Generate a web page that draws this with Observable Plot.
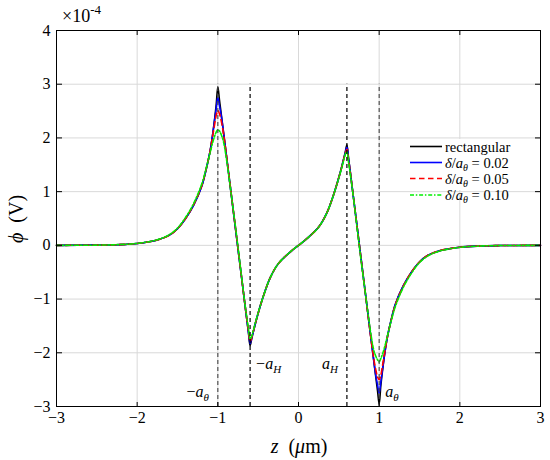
<!DOCTYPE html>
<html><head><meta charset="utf-8">
<script src="https://cdn.jsdelivr.net/npm/d3@7"></script>
<script src="https://cdn.jsdelivr.net/npm/@observablehq/plot@0.6"></script>
<style>body{margin:0;background:#fff}#chart{width:550px;height:460px}#chart svg, #chart svg text{font-family:"Liberation Serif","DejaVu Serif",serif !important}</style>
</head><body><div id="chart"></div>
<script>
// z in micrometres, phi in units of 1e-4 V
const z = [-3, -2.5, -2.25, -2, -1.75, -1.6, -1.5, -1.4, -1.3, -1.2, -1.15, -1.1, -1.07, -1.04, -1.02, -1, -0.98, -0.96, -0.93, -0.8, -0.67, -0.64, -0.62, -0.6, -0.58, -0.56, -0.52, -0.43, -0.35, -0.25, -0.1,
  0,
  0.1, 0.25, 0.35, 0.43, 0.52, 0.56, 0.58, 0.6, 0.62, 0.64, 0.67, 0.8, 0.93, 0.96, 0.98, 1, 1.02, 1.04, 1.07, 1.1, 1.15, 1.2, 1.3, 1.4, 1.5, 1.6, 1.75, 2, 2.25, 2.5, 3];
const phiRect = [0, 0.004, 0.012, 0.035, 0.1, 0.19, 0.31, 0.5, 0.75, 1.1, 1.38, 1.72, 2.0, 2.35, 2.62, 2.95, 2.71, 2.47, 2.11, 0.54, -1.03, -1.39, -1.63, -1.87, -1.74, -1.61, -1.37, -0.92, -0.6, -0.34, -0.12,
  0,
  0.12, 0.34, 0.6, 0.92, 1.37, 1.61, 1.74, 1.87, 1.63, 1.39, 1.03, -0.54, -2.11, -2.47, -2.71, -2.96, -2.62, -2.35, -2.0, -1.72, -1.38, -1.1, -0.75, -0.5, -0.31, -0.19, -0.1, -0.035, -0.012, -0.004, 0];
const phi002 = [0, 0.004, 0.012, 0.035, 0.1, 0.19, 0.31, 0.5, 0.75, 1.1, 1.38, 1.72, 2.0, 2.33, 2.55, 2.75, 2.6, 2.44, 2.11, 0.54, -1.03, -1.39, -1.62, -1.83, -1.72, -1.61, -1.37, -0.92, -0.6, -0.34, -0.12,
  0,
  0.12, 0.34, 0.6, 0.92, 1.37, 1.61, 1.72, 1.83, 1.62, 1.39, 1.03, -0.54, -2.11, -2.44, -2.6, -2.75, -2.55, -2.33, -2.0, -1.72, -1.38, -1.1, -0.75, -0.5, -0.31, -0.19, -0.1, -0.035, -0.012, -0.004, 0];
const phi005 = [0, 0.004, 0.012, 0.035, 0.1, 0.19, 0.31, 0.5, 0.76, 1.11, 1.39, 1.72, 1.98, 2.25, 2.42, 2.51, 2.45, 2.33, 2.08, 0.55, -1.03, -1.38, -1.59, -1.79, -1.71, -1.6, -1.37, -0.92, -0.6, -0.34, -0.12,
  0,
  0.12, 0.34, 0.6, 0.92, 1.37, 1.6, 1.71, 1.79, 1.59, 1.38, 1.03, -0.55, -2.08, -2.33, -2.45, -2.5, -2.42, -2.25, -1.98, -1.72, -1.39, -1.11, -0.76, -0.5, -0.31, -0.19, -0.1, -0.035, -0.012, -0.004, 0];
const phi010 = [0, 0.004, 0.013, 0.037, 0.105, 0.2, 0.32, 0.52, 0.78, 1.14, 1.4, 1.7, 1.88, 2.03, 2.11, 2.15, 2.13, 2.07, 1.93, 0.56, -1.02, -1.35, -1.55, -1.74, -1.69, -1.58, -1.36, -0.92, -0.6, -0.34, -0.12,
  0,
  0.12, 0.34, 0.6, 0.92, 1.36, 1.58, 1.69, 1.74, 1.55, 1.35, 1.02, -0.56, -1.93, -2.07, -2.13, -2.17, -2.11, -2.03, -1.88, -1.7, -1.4, -1.14, -0.78, -0.52, -0.32, -0.2, -0.105, -0.037, -0.013, -0.004, 0];

const seriesNames = ["rectangular", "δ/aθ = 0.02", "δ/aθ = 0.05", "δ/aθ = 0.10"];
const seriesColors = ["#000000", "#0000ff", "#ff0000", "#00ee00"];
const seriesDash = [null, null, "5.5,3.5", "4,1.8,1.5,1.8"];
const xTicks = [-3, -2, -1, 0, 1, 2, 3];
const yTicks = [-3, -2, -1, 0, 1, 2, 3, 4];
const boundaryZ = [-1, -0.6, 0.6, 1];
const boundarySpan = [-3, 3];
const labelText = ["−aθ", "−aH", "aH", "aθ"];
const labelZ = [-1, -0.6, 0.6, 1];
const labelPhi = [-2.72, -2.2, -2.2, -2.72];

const serif = "Liberation Serif, DejaVu Serif, serif";
const fmt = d => d < 0 ? "−" + (-d) : String(d);
const allSeries = [phiRect, phi002, phi005, phi010];
const lines = allSeries.map((vals, k) => Plot.line(z.map((zz, i) => ({z: zz, phi: vals[i]})), {
  x: "z", y: "phi", stroke: seriesColors[k], strokeWidth: 1.6, strokeDasharray: seriesDash[k], curve: "catmull-rom"
}));
const labels = labelText.map((t, i) => ({t, z: labelZ[i], phi: labelPhi[i]}));
const leftLab = labels.filter((d, i) => i === 0 || i === 2);
const rightLab = labels.filter((d, i) => i === 1 || i === 3);

const plot = Plot.plot({
  width: 550, height: 460,
  marginLeft: 56, marginRight: 10, marginTop: 30, marginBottom: 54,
  style: {fontFamily: serif, fontSize: "16px", background: "#fff", color: "#000"},
  x: {domain: [xTicks[0], xTicks[xTicks.length - 1]]},
  y: {domain: [yTicks[0], yTicks[yTicks.length - 1]]},
  marks: [
    Plot.gridX(xTicks, {stroke: "#d9d9d9", strokeOpacity: 1}),
    Plot.gridY(yTicks, {stroke: "#d9d9d9", strokeOpacity: 1}),
    ...lines,
    Plot.ruleX(boundaryZ.filter(v => Math.abs(v) === 1), {y1: boundarySpan[0], y2: boundarySpan[1], stroke: "#444", strokeWidth: 1.1, strokeDasharray: "4,3"}),
    Plot.ruleX(boundaryZ.filter(v => Math.abs(v) !== 1), {y1: boundarySpan[0], y2: boundarySpan[1], stroke: "#000", strokeWidth: 1.2, strokeDasharray: "4,3"}),
    Plot.text(leftLab, {x: "z", y: "phi", text: "t", textAnchor: "end", dx: -9, fontSize: 16, fontStyle: "italic", fontFamily: serif}),
    Plot.text(rightLab, {x: "z", y: "phi", text: "t", textAnchor: "start", dx: 6, fontSize: 16, fontStyle: "italic", fontFamily: serif}),
    Plot.frame({stroke: "#000", strokeWidth: 1}),
    Plot.axisX(xTicks, {anchor: "bottom", tickSize: 0, tickPadding: 5, tickFormat: fmt, label: null, fontSize: 16, fontFamily: serif}),
    Plot.axisX(xTicks, {anchor: "top", frameAnchor: "bottom", tickSize: 5, text: null, label: null}),
    Plot.axisX(xTicks, {anchor: "bottom", frameAnchor: "top", tickSize: 5, text: null, label: null}),
    Plot.axisY(yTicks, {anchor: "left", tickSize: 0, tickPadding: 6, tickFormat: fmt, label: null, fontSize: 16, fontFamily: serif}),
    Plot.axisY(yTicks, {anchor: "right", frameAnchor: "left", tickSize: 5, text: null, label: null}),
    Plot.axisY(yTicks, {anchor: "left", frameAnchor: "right", tickSize: 5, text: null, label: null})
  ]
});
document.getElementById("chart").appendChild(plot);
const svg = d3.select(plot);
svg.attr("font-family", serif);

// math-style label rewriting
function mathify(sel, str) {
  const parts = [];
  if (str === "−aθ") parts.push(["−", 0], ["a", 1], ["θ", 2]);
  else if (str === "−aH") parts.push(["−", 0], ["a", 1], ["H", 2]);
  else if (str === "aH") parts.push(["a", 1], ["H", 2]);
  else if (str === "aθ") parts.push(["a", 1], ["θ", 2]);
  else return;
  sel.text(null);
  parts.forEach(([t, kind]) => {
    const ts = sel.append("tspan").text(t);
    ts.attr("font-style", kind === 0 ? "normal" : "italic");
    if (kind === 2) ts.attr("font-size", "11px").attr("dy", "4");
  });
}
svg.selectAll("text").each(function () {
  const s = d3.select(this);
  s.attr("font-family", serif);
  if (this.childElementCount === 0) mathify(s, this.textContent);
});

function addText(x, y) {
  return svg.append("text").attr("x", x).attr("y", y).attr("text-anchor", "start")
    .attr("font-family", serif).attr("fill", "#000");
}

// multiplier
const mult = addText(62, 22).attr("font-size", 18);
mult.append("tspan").text("×10");
mult.append("tspan").text("-4").attr("font-size", 13).attr("dy", -8);

// axis titles
const xt = addText(299, 453).attr("text-anchor", "middle").attr("font-size", 20);
xt.append("tspan").text("z").attr("font-style", "italic");
xt.append("tspan").text("  (");
xt.append("tspan").text("μ").attr("font-style", "italic");
xt.append("tspan").text("m)");
const yt = svg.append("text").attr("transform", "translate(23,219) rotate(-90)").attr("text-anchor", "middle")
  .attr("font-family", serif).attr("font-size", 20).attr("fill", "#000");
yt.append("tspan").text("ϕ").attr("font-style", "italic");
yt.append("tspan").text("  (V)");

// legend
const lg = svg.append("g");
lg.append("rect").attr("x", 406).attr("y", 139).attr("width", 132).attr("height", 51).attr("fill", "#fff");
const rowY = [146.5, 162.5, 178.5, 195];
seriesNames.forEach((name, k) => {
  lg.append("line").attr("x1", 410).attr("x2", 442).attr("y1", rowY[k]).attr("y2", rowY[k])
    .attr("stroke", seriesColors[k]).attr("stroke-width", 1.6).attr("stroke-dasharray", seriesDash[k]);
  const t = lg.append("text").attr("x", 445).attr("y", rowY[k]).attr("dy", "0.35em").attr("text-anchor", "start")
    .attr("font-family", serif).attr("font-size", 14.5).attr("fill", "#000");
  if (k === 0) { t.text(name); return; }
  t.append("tspan").text("δ").attr("font-style", "italic");
  t.append("tspan").text("/");
  t.append("tspan").text("a").attr("font-style", "italic");
  t.append("tspan").text("θ").attr("font-style", "italic").attr("font-size", 10).attr("dy", 3);
  t.append("tspan").text(" = " + name.split("= ")[1]).attr("dy", -3);
});
</script></body></html>
